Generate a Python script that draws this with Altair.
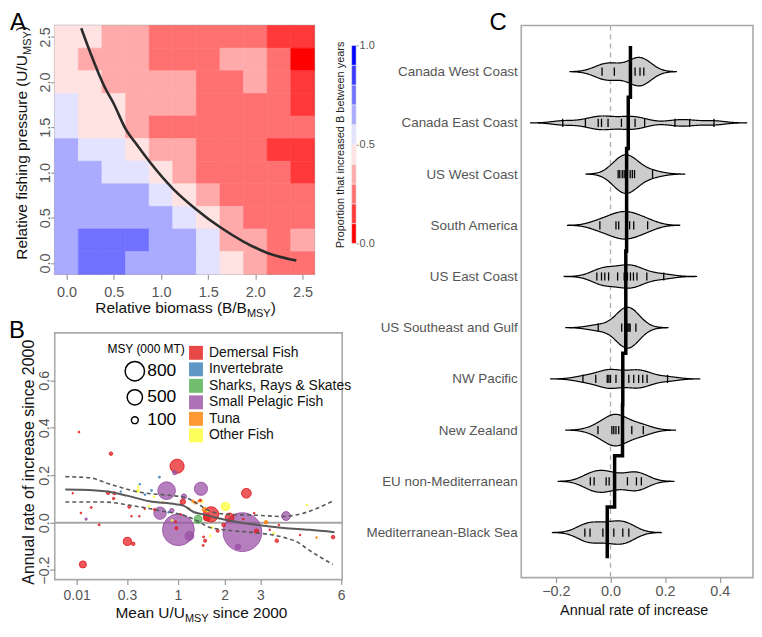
import math
import altair as alt
import pandas as pd

FONT = "Liberation Sans"
LBL = "#555555"
TTL = "#111111"
FRAME = "#aaaaaa"
TICK = "#999999"

# ---------------- Panel A data ----------------
b_vals = [0, 0.25, 0.5, 0.75, 1.0, 1.25, 1.5, 1.75, 2.0, 2.25, 2.5]
u_vals = [2.5, 2.25, 2.0, 1.75, 1.5, 1.25, 1.0, 0.75, 0.5, 0.25, 0.0]   # rows, top -> bottom
heat_rows = [
    [.45, .45, .35, .35, .25, .25, .25, .25, .25, .15, .15],
    [.45, .35, .35, .35, .25, .25, .25, .35, .35, .25, .05],
    [.45, .45, .35, .35, .35, .35, .25, .25, .35, .25, .15],
    [.55, .45, .45, .35, .35, .35, .25, .25, .25, .25, .15],
    [.55, .45, .45, .35, .25, .25, .25, .25, .25, .25, .25],
    [.65, .55, .55, .45, .35, .35, .25, .25, .25, .15, .15],
    [.65, .65, .55, .55, .45, .35, .25, .25, .25, .25, .15],
    [.65, .65, .65, .65, .55, .45, .35, .25, .25, .25, .25],
    [.65, .65, .65, .65, .65, .55, .45, .35, .25, .25, .25],
    [.65, .75, .75, .75, .65, .65, .55, .35, .35, .25, .35],
    [.65, .75, .75, .65, .65, .65, .55, .45, .35, .25, .25],
]
curve_b = [0.156, 0.25, 0.406, 0.5, 0.628, 0.75, 0.878, 1.128, 1.378, 1.628, 1.878, 2.128, 2.434]
curve_u = [2.596, 2.33, 1.94, 1.76, 1.477, 1.30, 1.122, 0.82, 0.589, 0.394, 0.234, 0.11, 0.027]
heat_colors = ["#FF0000", "#FF3939", "#FF7171", "#FFAAAA", "#FFE3E3",
               "#E3E3FF", "#AAAAFF", "#7171FF", "#3939FF", "#0000FF"]
heat_breaks = [0.1, 0.2, 0.3, 0.4, 0.5, 0.6, 0.7, 0.8, 0.9]
cb_lo = [0.0, 0.1, 0.2, 0.3, 0.4, 0.5, 0.6, 0.7, 0.8, 0.9]

# ---------------- Panel B data ----------------
pts_u = [0.0147, 0.164, 0.986, 0.945, 0.699, 0.81, 1.452, 1.11, 1.09, 0.708,
         1.009, 1.216, 0.974, 0.304, 0.364, 0.0243, 0.145, 0.19, 0.184, 0.323,
         0.0906, 0.034, 0.053, 0.019, 0.438, 0.415, 0.587, 0.243, 0.50, 1.282,
         1.39, 2.588, 2.025, 1.676, 1.58, 1.53, 2.13, 3.845, 2.476, 2.351,
         2.887, 1.831, 1.543, 1.50, 3.53, 5.66, 3.6, 4.35, 4.98, 4.6,
         3.43, 3.3, 3.18, 1.975, 1.47, 2.5, 1.33, 0.346, 0.433, 0.497,
         0.628, 0.55, 0.841, 1.437, 1.40, 1.509, 1.654, 2.817, 0.418, 0.9,
         1.2, 1.6, 0.62, 0.75, 1.7, 1.05, 0.0043, 0.96, 0.895]
pts_rate = [0.382, 0.291, 0.238, 0.211, 0.192, 0.135, 0.143, 0.11, 0.088, 0.04,
            -0.03, -0.056, -0.023, -0.079, -0.089, -0.176, 0.126, 0.124, 0.102, 0.067,
            -0.009, 0.015, 0.064, 0.041, 0.162, 0.135, 0.136, 0.131, 0.118, 0.091,
            0.014, 0.124, 0.068, 0.035, 0.022, 0.055, 0.022, 0.028, -0.04, -0.102,
            -0.036, -0.034, -0.076, -0.096, -0.076, -0.061, -0.01, -0.052, -0.063, 0.075,
            -0.045, -0.03, 0.002, -0.01, 0.09, 0.015, 0.084, 0.027, 0.027, 0.059,
            0.055, 0.07, 0.044, 0.094, 0.09, -0.06, -0.056, 0.04, 0.151, 0.01,
            0.06, 0.05, 0.11, 0.085, -0.02, 0.035, 0.124, 0.004, 0.051]
pts_msy = [7, 26, 423, 41, 8, 661, 372, 60, 60, 324,
           2142, 165, 20, 143, 26, 106, 26, 20, 12, 20,
           8, 12, 8, 6, 6, 20, 8, 6, 6, 12,
           134, 200, 143, 495, 106, 41, 165, 165, 3200, 60,
           41, 20, 20, 8, 26, 26, 6, 6, 6, 6,
           8, 6, 26, 26, 15, 6, 15, 6, 6, 6,
           12, 6, 6, 15, 6, 8, 6, 6, 6, 6,
           8, 8, 6, 6, 8, 6, 5, 8, 41]
pts_cat = ["D", "D", "D", "P", "I", "P", "P", "P", "D", "P",
           "P", "P", "D", "D", "D", "D", "D", "D", "D", "D",
           "D", "P", "D", "D", "I", "O", "I", "I", "I", "T",
           "S", "D", "O", "D", "D", "T", "D", "P", "P", "P",
           "D", "D", "D", "D", "D", "D", "D", "D", "T", "O",
           "O", "D", "T", "D", "O", "D", "T", "D", "D", "D",
           "D", "O", "I", "D", "T", "D", "O", "D", "O", "O",
           "T", "O", "O", "T", "O", "D", "D", "D", "P"]
cat_codes = ["D", "I", "S", "P", "T", "O"]
cat_names = ["Demersal Fish", "Invertebrate", "Sharks, Rays & Skates",
             "Small Pelagic Fish", "Tuna", "Other Fish"]
cat_colors = ["#e41a1c", "#377eb8", "#4daf4a", "#984ea3", "#ff7f00", "#ffff33"]
msy_legend = [800, 500, 100]

fit_mid_u = [0, 0.02, 0.14, 0.30, 0.56, 0.96, 1.10, 1.30, 1.50, 1.77, 2.26, 2.92, 3.76, 4.72, 5.72]
fit_mid_r = [0.140, 0.139, 0.131, 0.114, 0.090, 0.078, 0.072, 0.045, 0.035, 0.022, 0.005, -0.010, -0.022, -0.030, -0.040]
fit_hi_u = [0, 0.05, 0.117, 0.2, 0.4, 0.85, 1.1, 1.4, 1.62, 2.09, 2.92, 3.76, 4.47, 5.645]
fit_hi_r = [0.194, 0.189, 0.171, 0.155, 0.131, 0.115, 0.108, 0.078, 0.051, 0.035, 0.031, 0.026, 0.040, 0.091]
fit_lo_u = [0, 0.117, 0.364, 0.55, 0.747, 1.0, 1.404, 1.618, 2.092, 2.816, 3.763, 4.3, 4.6, 5.645]
fit_lo_r = [0.087, 0.087, 0.071, 0.060, 0.048, 0.038, 0.005, -0.018, -0.032, -0.042, -0.062, -0.085, -0.109, -0.176]
b_xticks = [0.01, 0.3, 1, 2, 3, 6]

# ---------------- Panel C data ----------------
regions = ["Canada West Coast", "Canada East Coast", "US West Coast", "South America",
           "US East Coast", "US Southeast and Gulf", "NW Pacific", "New Zealand",
           "EU non-Mediterranean", "Mediterranean-Black Sea"]
region_ticks = [
    [-0.031, 0.014, 0.09, 0.108, 0.122],
    [-0.175, -0.092, -0.045, -0.033, -0.009, 0.04, 0.067, 0.09, 0.125, 0.236, 0.29, 0.379],
    [0.028, 0.034, 0.043, 0.05, 0.056, 0.072, 0.08, 0.088, 0.154],
    [-0.039, 0.02, 0.03, 0.07, 0.085, 0.136],
    [-0.05, -0.033, -0.021, -0.007, 0.026, 0.05, 0.062, 0.073, 0.084, 0.097, 0.133, 0.195],
    [-0.045, 0.041, 0.052, 0.056, 0.06, 0.064, 0.068, 0.072, 0.093],
    [-0.101, -0.054, -0.012, -0.006, 0.0, 0.02, 0.067, 0.085, 0.103, 0.118, 0.134, 0.209],
    [-0.046, 0.005, 0.012, 0.02, 0.03, 0.078, 0.12],
    [-0.074, -0.06, -0.016, -0.005, 0.062, 0.095, 0.113],
    [-0.094, -0.075, -0.028, 0.012, 0.045, 0.067],
]
region_means = [0.073, 0.065, 0.059, 0.059, 0.056, 0.056, 0.045, 0.044, 0.015, -0.012]

# ---------------- layout helpers ----------------
WA, HA = 261, 250
WB, HB = 289, 248
WC, HC = 233, 555

AW = {' ': 278, '(': 333, ')': 333, '/': 278, '.': 278, '-': 333, '&': 667, ',': 278,
      'A': 667, 'B': 667, 'C': 722, 'D': 722, 'M': 833, 'R': 722, 'S': 667, 'U': 722, 'Y': 667,
      'a': 556, 'b': 556, 'c': 500, 'd': 556, 'e': 556, 'f': 278, 'g': 556, 'h': 556, 'i': 222,
      'l': 222, 'm': 833, 'n': 556, 'o': 556, 'p': 556, 'r': 333, 's': 500, 't': 278, 'u': 556,
      'v': 500, 'w': 722, 'y': 500}


def tw(s, size):
    return sum(AW.get(ch, 556) for ch in s) * size / 1000.0


one = pd.DataFrame({"k": [0]})


def text(t, x, y, size, align="left", baseline="alphabetic", angle=None, dx=0, dy=0, color=TTL):
    kw = dict(text=t, fontSize=size, align=align, baseline=baseline, dx=dx, dy=dy, color=color)
    if angle:
        kw["angle"] = angle
    return alt.Chart(one).mark_text(**kw).encode(x=alt.value(x), y=alt.value(y))


def composite(parts, x, y, angle=None):
    # parts: (text, font size, baseline shift, gap before)
    widths = [tw(t, s) + g for t, s, _, g in parts]
    off = -sum(widths) / 2.0
    out = []
    for (t, s, d, g), w in zip(parts, widths):
        out.append(text(t, x, y, s, angle=angle, dx=off + g, dy=d))
        off += w
    return out


def axis(**kw):
    base = dict(title=None, grid=False, domain=False, tickColor=TICK, tickWidth=1.2,
                labelColor=LBL, labelFontSize=14.5)
    base.update(kw)
    return alt.Axis(**base)


# ---------------- Panel A ----------------
heat_df = pd.DataFrame([{"b": b, "u": u, "p": heat_rows[i][j]}
                        for i, u in enumerate(u_vals) for j, b in enumerate(b_vals)])
xA = alt.Scale(domain=[-0.125, 2.625], nice=False, zero=False)
yA = alt.Scale(domain=[-0.125, 2.625], nice=False, zero=False)
axXA = axis(values=[0, 0.5, 1, 1.5, 2, 2.5], format=".1f", tickSize=5, labelPadding=6)
axYA = axis(values=[0, 0.5, 1, 1.5, 2, 2.5], format=".1f", tickSize=4, labelPadding=1,
            labelAngle=270, labelAlign="center", labelBaseline="alphabetic")
colA = alt.Scale(type="threshold", domain=heat_breaks, range=heat_colors)

heat = alt.Chart(heat_df).transform_calculate(
    x0="datum.b - 0.125", x1="datum.b + 0.125", y0="datum.u - 0.125", y1="datum.u + 0.125"
).mark_rect(strokeWidth=0.6).encode(
    x=alt.X("x0:Q", scale=xA, axis=axXA), x2="x1:Q",
    y=alt.Y("y0:Q", scale=yA, axis=axYA), y2="y1:Q",
    color=alt.Color("p:Q", scale=colA, legend=None),
    stroke=alt.Stroke("p:Q", scale=colA, legend=None),
)
curve = alt.Chart(pd.DataFrame({"b": curve_b, "u": curve_u})).mark_line(
    color="#2b2b2b", strokeWidth=2.6, interpolate="monotone"
).encode(x=alt.X("b:Q", scale=xA, axis=axXA), y=alt.Y("u:Q", scale=yA, axis=axYA))

textsA = [text("A", -45, -15, 24, baseline="top", color="black")]
textsA += composite([("Relative biomass (B/B", 15.5, 0, 0), ("MSY", 11, 4, 0), (")", 15.5, 0, 0)],
                    WA / 2 + 1, HA + 39)
textsA += composite([("Relative fishing pressure (U/U", 15.5, 0, 0), ("MSY", 11, 4, 0),
                     (")", 15.5, 0, 0)], -28, 118, angle=270)
textsA.append(text("Proportion that increased B between years", 291, 120, 11,
                   align="center", angle=270, color="#222222"))

cb_df = pd.DataFrame({"lo": cb_lo})
cbar = alt.Chart(cb_df).transform_calculate(
    hi="datum.lo + 0.1", mid="datum.lo + 0.05"
).mark_rect(stroke="#eeeeee", strokeWidth=0.6).encode(
    x=alt.value(298.5), x2=alt.value(303),
    y=alt.Y("lo:Q", scale=alt.Scale(domain=[0, 1], range=[219, 20], nice=False, zero=False),
            axis=axis(orient="right", offset=42, values=[0, 0.5, 1], format=".1f",
                      tickSize=2, labelPadding=1, labelFontSize=11)),
    y2="hi:Q",
    color=alt.Color("mid:Q", scale=colA, legend=None),
)

panelA = alt.layer(alt.layer(heat, curve, *textsA), cbar).resolve_scale(
    y="independent").properties(width=WA, height=HA)

# ---------------- Panel B ----------------
name_of = dict(zip(cat_codes, cat_names))
pts_df = pd.DataFrame({"u": pts_u, "rate": pts_rate, "msy": pts_msy,
                       "cat": [name_of[c] for c in pts_cat]})
xB = alt.Scale(domain=[-0.094, 2.46], nice=False, zero=False)
yB = alt.Scale(domain=[-0.24, 0.80], nice=False, zero=False)
axXB = axis(values=[math.sqrt(v) for v in b_xticks],
            labelExpr="format(pow(datum.value, 2), '.2~f')", tickSize=5, labelPadding=4,
            labelFontSize=14)
axYB = axis(values=[-0.2, 0, 0.2, 0.4, 0.6], format=".1f", tickSize=5, labelPadding=1,
            labelAngle=270, labelAlign="center", labelBaseline="alphabetic")
colB = alt.Scale(domain=cat_names, range=cat_colors)

zeroB = alt.Chart(pd.DataFrame({"z": [0]})).mark_rule(color="#a6a6a6", strokeWidth=2).encode(
    y=alt.Y("z:Q", scale=yB, axis=axYB))

pts = alt.Chart(pts_df).transform_calculate(s="sqrt(datum.u)").mark_circle(
    opacity=1, fillOpacity=0.72, strokeOpacity=0.9, strokeWidth=1
).encode(
    x=alt.X("s:Q", scale=xB, axis=axXB),
    y=alt.Y("rate:Q", scale=yB, axis=axYB),
    size=alt.Size("msy:Q", scale=alt.Scale(domain=[0, 3500], range=[0, 1663]),
                  legend=alt.Legend(title="MSY (000 MT)", values=msy_legend, orient="none",
                                    legendX=53, legendY=11, symbolType="circle",
                                    symbolFillColor="transparent", symbolStrokeColor="black",
                                    symbolStrokeWidth=1.5, symbolOpacity=1, symbolOffset=17,
                                    labelOffset=2, labelFontSize=17.5, labelColor="black",
                                    titleFontSize=12, titleFontWeight="normal", titleColor="black",
                                    titlePadding=5, rowPadding=2, padding=0)),
    color=alt.Color("cat:N", scale=colB,
                    legend=alt.Legend(title=None, orient="none", legendX=135, legendY=13,
                                      symbolType="square", symbolSize=196, symbolOpacity=0.8,
                                      symbolStrokeWidth=0, labelFontSize=14, labelColor="#111111",
                                      labelOffset=6, rowPadding=2.6, padding=0)),
    stroke=alt.Stroke("cat:N", scale=colB, legend=None),
    order=alt.Order("msy:Q", sort="descending"),
)


def fit_line(us, rs, dash):
    kw = dict(color="#5a5a5a", strokeWidth=2 if dash is None else 1.6, interpolate="monotone")
    if dash is not None:
        kw["strokeDash"] = dash
    return alt.Chart(pd.DataFrame({"u": us, "r": rs})).transform_calculate(
        s="sqrt(datum.u)").mark_line(**kw).encode(
        x=alt.X("s:Q", scale=xB, axis=axXB), y=alt.Y("r:Q", scale=yB, axis=axYB))


textsB = [text("B", -46, -14, 24, baseline="top", color="black"),
          text("Annual rate of increase since 2000", -21, HB / 2 + 6, 16, align="center", angle=270)]
textsB += composite([("Mean U/U", 15.5, 0, 0), ("MSY", 11, 4, 0), ("since 2000", 15.5, 0, 4.3)],
                    WB / 2 + 3, HB + 39)

panelB = alt.layer(zeroB, pts, fit_line(fit_mid_u, fit_mid_r, None),
                   fit_line(fit_hi_u, fit_hi_r, [4, 3]), fit_line(fit_lo_u, fit_lo_r, [4, 3]),
                   *textsB).properties(width=WB, height=HB)

# ---------------- Panel C ----------------
obs_df = pd.DataFrame([{"idx": i, "rate": v} for i, ts in enumerate(region_ticks) for v in ts])
mean_df = pd.DataFrame([{"m": region_means[i], "y": i + d, "o": 2 * i + k}
                        for i in range(len(regions)) for k, d in enumerate([-0.5, 0.5])])
xC = alt.Scale(domain=[-0.327, 0.522], nice=False, zero=False)
yC = alt.Scale(domain=[-0.9, 9.88], nice=False, zero=False, reverse=True)
axXC = axis(values=[-0.2, 0, 0.2, 0.4], format=".1f", tickSize=5, labelPadding=2)
label_expr = "[" + ",".join("'%s'" % r for r in regions) + "][datum.value]"
axYC = axis(values=list(range(len(regions))), labelExpr=label_expr, ticks=False,
            labelFontSize=13.5, labelPadding=4)

zeroC = alt.Chart(pd.DataFrame({"z": [0]})).mark_rule(
    color="#b0b0b0", strokeWidth=1.4, strokeDash=[5, 4]).encode(
    x=alt.X("z:Q", scale=xC, axis=axXC))

violin = alt.Chart(obs_df).transform_joinaggregate(
    lo="min(rate)", hi="max(rate)", groupby=["idx"]
).transform_density(
    "rate", as_=["rate", "density"], groupby=["idx", "lo", "hi"],
    bandwidth=0.04, extent=[-0.36, 0.56], steps=300
).transform_filter(
    "datum.rate >= datum.lo - 0.12 && datum.rate <= datum.hi + 0.12"
).transform_joinaggregate(maxd="max(density)").transform_calculate(
    top="datum.idx - 0.4 * datum.density / datum.maxd",
    bot="datum.idx + 0.4 * datum.density / datum.maxd"
).mark_area(fill="#cccccc", stroke="black", strokeWidth=1.2, opacity=1,
            interpolate="monotone", orient="vertical").encode(
    x=alt.X("rate:Q", scale=xC, axis=axXC),
    y=alt.Y("top:Q", scale=yC, axis=axYC), y2="bot:Q",
    detail="idx:N")

beans = alt.Chart(obs_df).transform_calculate(
    y0="datum.idx - 0.08", y1="datum.idx + 0.08"
).mark_rule(color="black", strokeWidth=1.3).encode(
    x=alt.X("rate:Q", scale=xC, axis=axXC),
    y=alt.Y("y0:Q", scale=yC, axis=axYC), y2="y1:Q")

meanline = alt.Chart(mean_df).mark_line(color="black", strokeWidth=3.5).encode(
    x=alt.X("m:Q", scale=xC, axis=axXC), y=alt.Y("y:Q", scale=yC, axis=axYC), order="o:Q")

textsC = [text("C", -32, -15, 24, baseline="top", color="black"),
          text("Annual rate of increase", WC / 2 - 3, HC + 38, 14.5, align="center")]

panelC = alt.layer(zeroC, violin, beans, meanline, *textsC).properties(width=WC, height=HC)

# ---------------- assemble ----------------
left = alt.vconcat(panelA, panelB, spacing=-2).resolve_legend(
    size="independent", color="independent")
chart = alt.hconcat(left, panelC, spacing=-12).resolve_legend(
    size="independent", color="independent").properties(padding=0).configure(
    font=FONT
).configure_view(stroke=FRAME, strokeWidth=1.6)

chart.save("out.html", embed_options={"renderer": "svg", "actions": False})
